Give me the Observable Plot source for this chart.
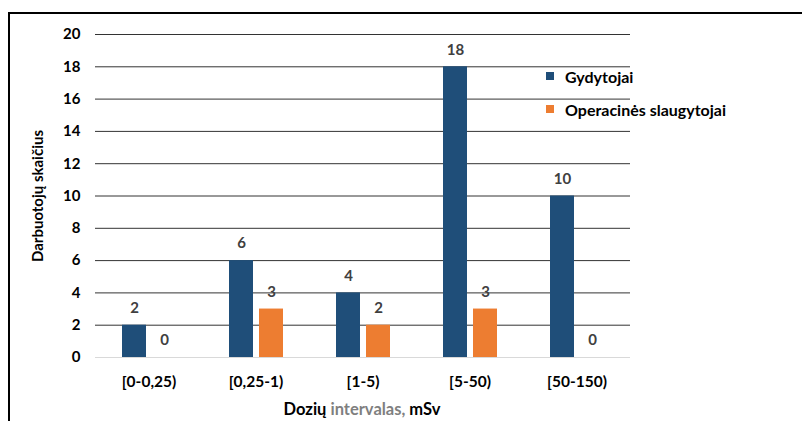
<!DOCTYPE html>
<html>
<head>
<meta charset="utf-8">
<script src="https://cdn.jsdelivr.net/npm/d3@7"></script>
<script src="https://cdn.jsdelivr.net/npm/@observablehq/plot@0.6"></script>
<style>
  body { margin: 0; background: #fff; font-family: Lato, "Open Sans", sans-serif; }
  #chart { position: relative; width: 802px; height: 421px; overflow: hidden; }
  #frame { position: absolute; left: 8px; top: 12px; width: 820px; height: 440px;
           border-left: 2px solid #000; border-top: 2px solid #000; pointer-events: none; }
  #plot { position: absolute; left: 0; top: 0; }
  .ytitle { position: absolute; left: 37px; top: 196px; transform: translate(-50%, -50%) rotate(-90deg);
            font-weight: bold; font-size: 15px; white-space: nowrap; color: #000; }
  .xtitle { position: absolute; left: 362px; top: 409px; transform: translate(-50%, -50%);
            font-weight: bold; font-size: 16.5px; white-space: nowrap; color: #000; }
  .xtitle .muted { color: #7f7f7f; }
  .legend { position: absolute; left: 546px; top: 65px; font-weight: bold; font-size: 16px; color: #000; }
  .legend .item { display: flex; align-items: center; height: 22px; margin-bottom: 11px; }
  .legend .sw { width: 8px; height: 8px; margin-right: 11px; }
</style>
</head>
<body>
<div id="chart">
  <div id="plot"></div>
  <div class="ytitle">Darbuotojų skaičius</div>
  <div class="xtitle">Dozių <span class="muted">intervalas,</span> mSv</div>
  <div class="legend" id="legend"></div>
  <div id="frame"></div>
</div>
<script>
// Dose intervals (mSv) and the two staff groups
const categories = ["[0-0,25)", "[0,25-1)", "[1-5)", "[5-50)", "[50-150)"];
const series = ["Gydytojai", "Operacinės slaugytojai"];
const gydytojai = [2, 6, 4, 18, 10];
const slaugytojai = [0, 3, 2, 3, 0];
const yTicks = [0, 2, 4, 6, 8, 10, 12, 14, 16, 18, 20];
const colors = ["#1f4e79", "#ed7d31"];

// long table: one row per (interval, group)
const rows = categories.flatMap((c, i) => [
  {cat: c, series: series[0], value: gydytojai[i]},
  {cat: c, series: series[1], value: slaugytojai[i]}
]);

const chart = Plot.plot({
  width: 802,
  height: 421,
  marginTop: 34,
  marginBottom: 64,
  marginLeft: 95,
  marginRight: 172,
  style: {fontFamily: "Lato, 'Open Sans', sans-serif", fontWeight: "bold", color: "#000"},
  fx: {domain: categories, padding: 0},
  x: {domain: series, paddingInner: 0.2, paddingOuter: 0.88, axis: null},
  y: {domain: [0, 20]},
  color: {domain: series, range: colors},
  marks: [
    Plot.ruleY(yTicks.filter(v => v > 0), {stroke: "#333", strokeWidth: 1}),
    Plot.ruleY([0], {stroke: "#d9d9d9", strokeWidth: 1}),
    Plot.axisY(yTicks, {tickSize: 0, tickPadding: 15, label: null, fontSize: 15, fill: "#000"}),
    Plot.axisFx({anchor: "bottom", tickSize: 0, tickPadding: 18, label: null, fontSize: 15.5, fill: "#000"}),
    Plot.barY(rows, {fx: "cat", x: "series", y: "value", fill: "series"}),
    Plot.text(rows, {fx: "cat", x: "series", y: "value", text: d => String(d.value),
      dy: -17, fill: "#404040", fontWeight: "bold", fontSize: 15})
  ]
});
document.getElementById("plot").appendChild(chart);

// legend entries
const legend = document.getElementById("legend");
series.forEach((s, i) => {
  const item = document.createElement("div");
  item.className = "item";
  const sw = document.createElement("span");
  sw.className = "sw";
  sw.style.background = colors[i];
  const label = document.createElement("span");
  label.textContent = s;
  item.append(sw, label);
  legend.appendChild(item);
});
</script>
</body>
</html>
